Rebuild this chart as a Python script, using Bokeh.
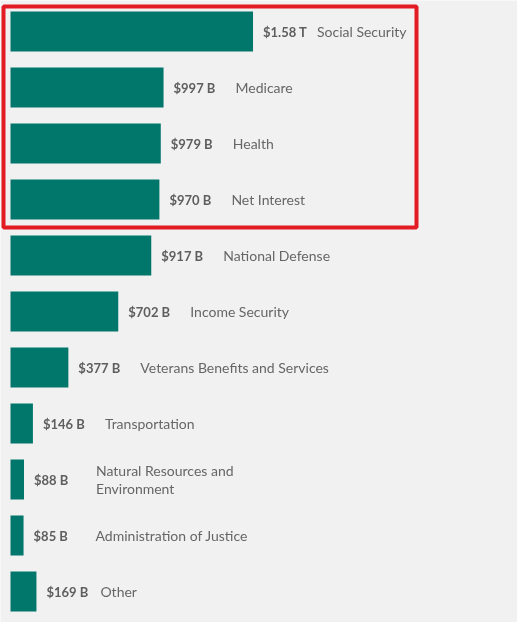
from bokeh.core.properties import value
from bokeh.embed import file_html
from bokeh.models import BoxAnnotation, ColumnDataSource, Range1d
from bokeh.plotting import figure
from bokeh.resources import INLINE

# spending by function, in billions of dollars
categories = [
    "Social Security",
    "Medicare",
    "Health",
    "Net Interest",
    "National Defense",
    "Income Security",
    "Veterans Benefits and Services",
    "Transportation",
    "Natural Resources and\nEnvironment",
    "Administration of Justice",
    "Other",
]
amounts = [1580, 997, 979, 970, 917, 702, 377, 146, 88, 85, 169]
amount_labels = [
    "$1.58 T", "$997 B", "$979 B", "$970 B", "$917 B", "$702 B",
    "$377 B", "$146 B", "$88 B", "$85 B", "$169 B",
]
highlighted = 4  # first rows boxed in red

W, H = 517, 622
px_per_b = 0.1535
row_px = 56
first_row_px = 31
left_px = 10

# gap (px) from the amount label start to the category name
name_gap = [54] + [62] * 9 + [54]

source = ColumnDataSource(dict(
    row=list(range(len(categories))),
    amount=amounts,
    amount_label=amount_labels,
    category=categories,
    name_offset=[10 + g for g in name_gap],
))

p = figure(
    width=W,
    height=H,
    output_backend="svg",
    toolbar_location=None,
    tools="",
    x_range=Range1d(-left_px / px_per_b, (W - left_px) / px_per_b),
    y_range=Range1d((H - first_row_px) / row_px, -first_row_px / row_px),
    min_border=0,
    background_fill_color="#f1f1f1",
    border_fill_color="#f1f1f1",
    outline_line_color=None,
)
p.axis.visible = False
p.grid.visible = False
p.styles = {"position": "fixed", "left": "0px", "top": "0px"}

p.hbar(y="row", left=0, right="amount", height=40 / row_px,
       fill_color="#01766b", line_color=None, source=source)

p.text(x="amount", y="row", text="amount_label", x_offset=10,
       text_font=value("Lato"), text_font_size="13px", text_font_style="bold",
       text_color="#5e5e5e", text_baseline="middle", source=source)

p.text(x="amount", y="row", text="category", x_offset="name_offset",
       text_font=value("Lato"), text_font_size="14px", text_color="#666666",
       text_baseline="middle", text_line_height=1.07, source=source)

box = BoxAnnotation(
    left=-7 / px_per_b,
    right=(416 - left_px) / px_per_b,
    top=-0.5 + 3 / row_px,
    bottom=highlighted - 0.5,
    fill_alpha=0,
    line_color="#e31b23",
    line_alpha=1,
    line_width=4,
)
p.add_layout(box)

open("out.html", "w").write(file_html(p, INLINE))
